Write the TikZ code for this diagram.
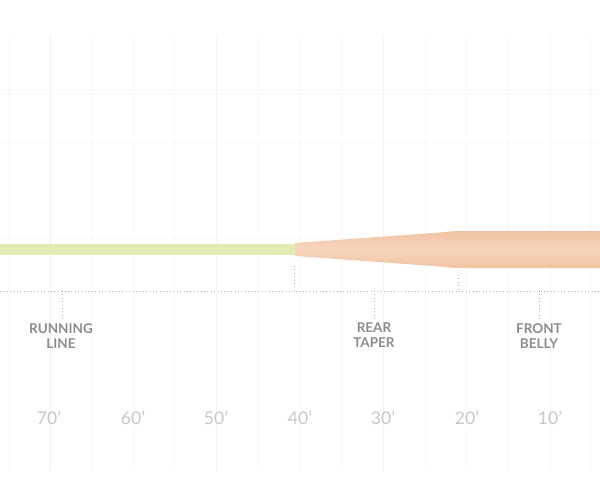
\documentclass[tikz,border=0pt]{standalone}
\usepackage{fontspec}
\setmainfont{Lato}
\begin{document}
\begin{tikzpicture}[x=1pt,y=-1pt,
  gridline/.style={draw=black!2.5,line width=0.8},
  gridmain/.style={draw=black!4.5,line width=1},
  dotline/.style={draw=black!30,line width=1,dash pattern=on 1pt off 2.4pt},
  seglabel/.style={font=\fontsize{13.5}{15}\selectfont\bfseries,text=black!45,align=center,inner sep=0},
  distlabel/.style={font=\fontsize{17.5}{19}\selectfont,text=black!22,inner sep=0}]
\definecolor{runcol}{RGB}{226,235,180}
\definecolor{tanD}{RGB}{241,195,162}
\definecolor{tanL}{RGB}{247,214,190}
\useasboundingbox (0,0) rectangle (600,500);
\fill[white] (0,0) rectangle (600,500);
% faint grid
\foreach \i in {0,...,14} {
  \draw[gridline] ({8+41.7*\i},36) -- ({8+41.7*\i},470);
}
\foreach \xx in {50,216.5,383,550} {
  \draw[gridmain] (\xx,36) -- (\xx,470);
}
\draw[gridline] (0,89) -- (600,89);
\draw[gridline] (0,93) -- (600,93);
\draw[gridline] (0,142) -- (600,142);
\draw[gridline] (0,238) -- (600,238);
% line body
\fill[runcol] (0,244) rectangle (296,255);
\shade[top color=tanD,bottom color=tanD,middle color=tanL]
  (295,243) -- (440,232.5) .. controls (452,231.2) and (456,231) .. (462,231) -- (600,231)
  -- (600,268) -- (462,268) .. controls (456,268) and (452,267.8) .. (440,266.5) -- (295,256) -- cycle;
% coordinates
\coordinate (axL) at (0,291);
\coordinate (axR) at (600,291);
\coordinate (t1) at (294,266);
\coordinate (b1) at (294,291);
\coordinate (t2) at (458,275);
\coordinate (b2) at (458,291);
\coordinate (r1) at (62,291);
\coordinate (r2) at (374,291);
\coordinate (r3) at (539,291);
\draw[dotline] (axL) -- (axR);
\draw[dotline] (t1) -- (b1);
\draw[dotline] (t2) -- (b2);
\node[seglabel,anchor=north] (run) at (61,323) {RUNNING\\LINE};
\node[seglabel,anchor=north] (rear) at (374,323) {REAR\\TAPER};
\node[seglabel,anchor=north] (front) at (539,323) {FRONT\\BELLY};
\draw[dotline] (r1) -- ++(0,28);
\draw[dotline] (r2) -- ++(0,28);
\draw[dotline] (r3) -- ++(0,28);
% distances
\node[distlabel] (d70) at (49,418) {70'};
\node[distlabel] (d60) at (133,418) {60'};
\node[distlabel] (d50) at (216,418) {50'};
\node[distlabel] (d40) at (300,418) {40'};
\node[distlabel] (d30) at (383,418) {30'};
\node[distlabel] (d20) at (467,418) {20'};
\node[distlabel] (d10) at (550,418) {10'};
\end{tikzpicture}
\end{document}
